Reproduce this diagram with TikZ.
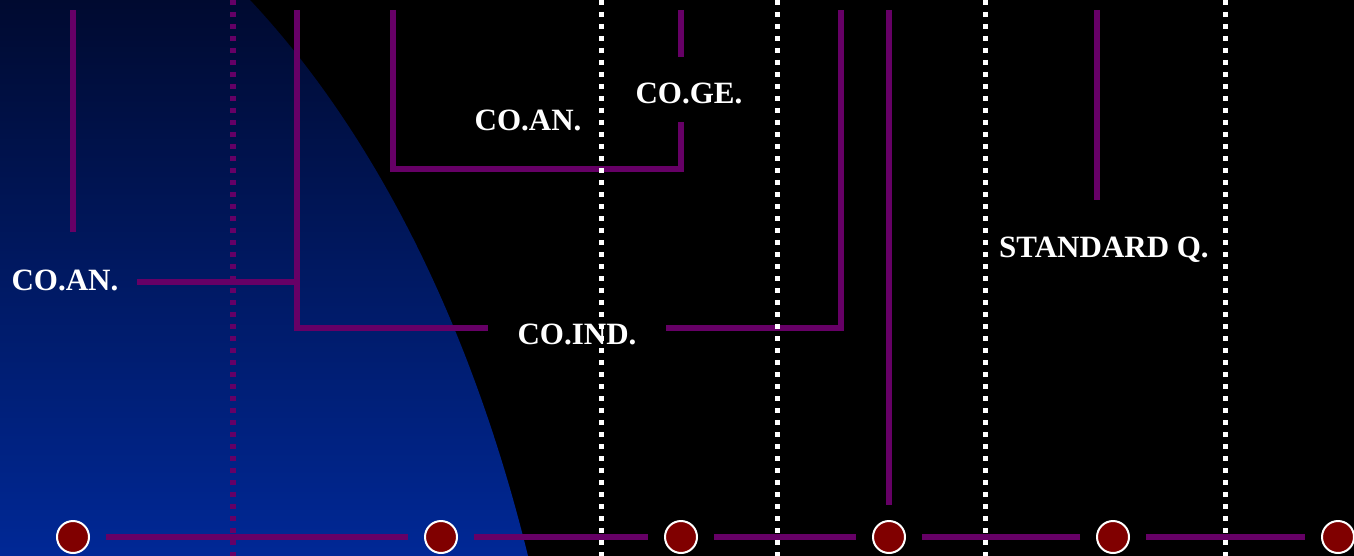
\documentclass[tikz,border=0pt]{standalone}
\usepackage{fontspec}
\setmainfont{Liberation Serif}
\usepackage{xcolor}
\definecolor{plum}{RGB}{102,0,102}
\definecolor{navytop}{RGB}{0,10,48}
\definecolor{navybot}{RGB}{0,40,150}
\definecolor{stagered}{RGB}{128,0,0}

\begin{document}
\begin{tikzpicture}[x=0.5pt,y=-0.5pt]
      \tikzstyle{stage}=[circle,draw=white,line width=1pt,fill=stagered,minimum size=16pt,inner sep=0pt]
      \tikzstyle{lbl}=[text=white,font=\bfseries\fontsize{15.5}{18}\selectfont,inner sep=0pt,anchor=base]
      \tikzstyle{link}=[plum,line width=3pt]
      \tikzstyle{guide}=[white,line width=2.5pt,dash pattern=on 2.5pt off 3.5pt]
      \useasboundingbox (0,0) rectangle (1354,556);
      \fill[black] (0,0) rectangle (1354,556);
      \shade[top color=navytop,bottom color=navybot] (0,0) -- (250,0) .. controls (372,130) and (470,320) .. (528,556) -- (0,556) -- cycle;
      % stages along the bottom
      \node[stage] (s1) at (73,537) {};
      \node[stage] (s2) at (441,537) {};
      \node[stage] (s3) at (681,537) {};
      \node[stage] (s4) at (889,537) {};
      \node[stage] (s5) at (1113,537) {};
      \node[stage] (s6) at (1338,537) {};
      % labels
      \node[lbl] (coanl) at (65,290) {CO.AN.};
      \node[lbl] (coanm) at (528,131) {CO.AN.};
      \node[lbl] (coge) at (689,104) {CO.GE.};
      \node[lbl] (coind) at (577,344) {CO.IND.};
      \node[lbl] (stdq) at (1104,257) {STANDARD Q.};
      % line ends
      \coordinate (v1a) at (73,10);   \coordinate (v1b) at (73,232);
      \coordinate (h1a) at (137,282); \coordinate (j1) at (297,282);
      \coordinate (v2a) at (297,10);  \coordinate (h2b) at (488,328);
      \coordinate (h3a) at (666,328); \coordinate (v3a) at (841,10);
      \coordinate (v4a) at (393,10);  \coordinate (c4) at (681,169);
      \coordinate (v4b) at (681,122);
      \coordinate (v5a) at (681,10);  \coordinate (v5b) at (681,57);
      \coordinate (v6a) at (889,10);  \coordinate (v6b) at (889,505);
      \coordinate (v7a) at (1097,10); \coordinate (v7b) at (1097,200);
      \draw[plum,line width=3pt,dash pattern=on 2.5pt off 3.5pt] (233,0) -- (233,556);
      \draw[link] (v1a) -- (v1b);
      \draw[link] (h1a) -- (j1);
      \draw[link] (v2a) |- (h2b);
      \draw[link] (h3a) -| (v3a);
      \draw[link] (v4a) |- (c4) -- (v4b);
      \draw[link] (v5a) -- (v5b);
      \draw[link] (v6a) -- (v6b);
      \draw[link] (v7a) -- (v7b);
      \foreach \a/\b in {s1/s2,s2/s3,s3/s4,s4/s5,s5/s6}
        \draw[link,shorten <=8pt,shorten >=8pt] (\a) -- (\b);
      \foreach \gx in {601,777,985,1225}
        \draw[guide] (\gx,0) -- (\gx,556);
    \end{tikzpicture}
\end{document}
